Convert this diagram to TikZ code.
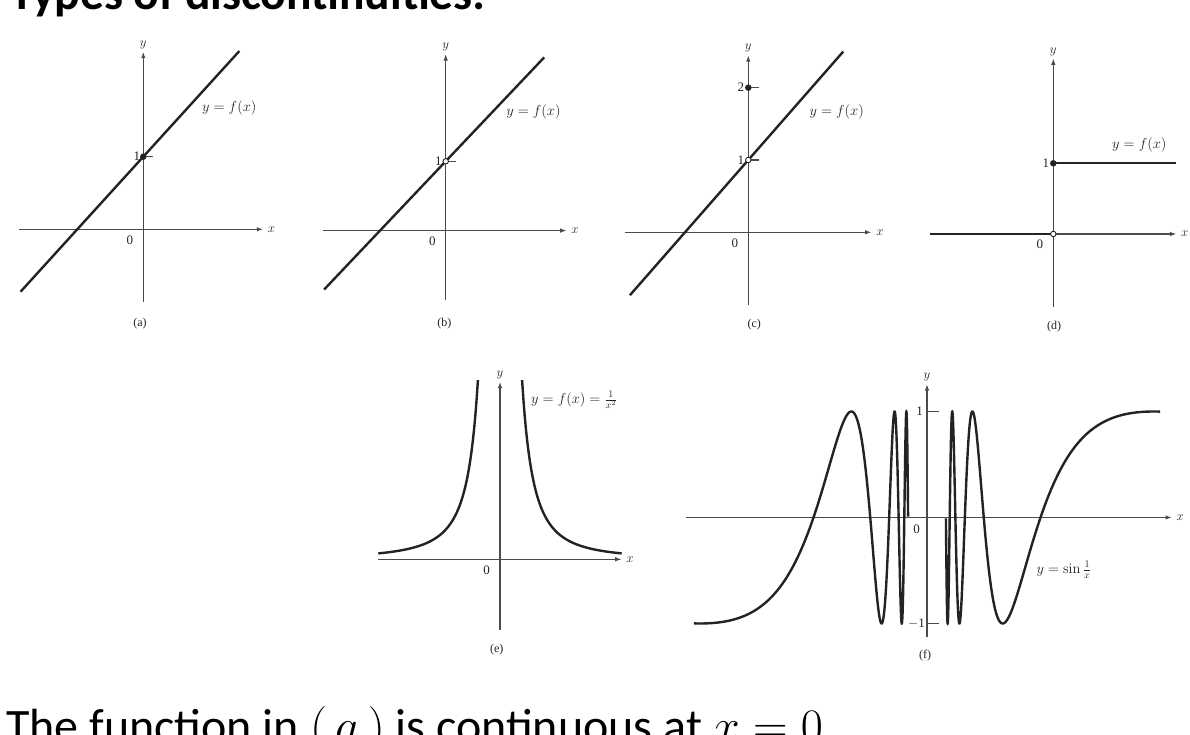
\RequirePackage{fix-cm}
\documentclass[tikz,border=0pt]{standalone}
\usepackage[no-math]{fontspec}
\setmainfont{Carlito}
\newfontfamily\plotfont{Liberation Serif}
\usetikzlibrary{arrows.meta, positioning}
\definecolor{axisgray}{RGB}{75,75,75}
\definecolor{curvegray}{RGB}{35,35,35}

\begin{document}
\begin{tikzpicture}[
    x=1pt, y=1pt,
    axis/.style  ={-{Latex[length=6.5pt,width=4.5pt]}, line width=1.3pt, axisgray},
    curve/.style ={line width=2.4pt, curvegray},
    ticky/.style ={line width=1.2pt, axisgray},
    fdot/.style  ={circle, fill=curvegray, inner sep=0pt, minimum size=6.5pt},
    hdot/.style  ={circle, draw=curvegray, fill=white, line width=0.9pt,
                   inner sep=0pt, minimum size=5.5pt},
    num/.style   ={font=\plotfont\fontsize{13}{15}\selectfont, inner sep=1pt, curvegray},
    subcap/.style={font=\plotfont\fontsize{12}{14}\selectfont, curvegray},
    axlbl/.style ={font=\fontsize{13}{15}\selectfont, inner sep=1pt, curvegray},
    fn/.style    ={font=\fontsize{14.5}{16}\selectfont, inner sep=1pt, curvegray},
  ]
  \useasboundingbox (0,0) rectangle (1190,735);

  % ---- slide texts (cut by the page edge) ----
  \node[anchor=base west, font=\bfseries\fontsize{47.5}{50}\selectfont, inner sep=0pt]
    (title) at (10,725) {Types of discontinuities:};
  \node[anchor=base west, font=\fontsize{48}{52}\selectfont, inner sep=0pt]
    (remark) at (6,-8) {The function in $(\,a\,)$ is continuous at $x=0$};

  % ---- (a) continuous ----
  \begin{scope}[shift={(143.3,505.7)}, x=66pt, y=72.6pt]
    \coordinate (Oa) at (0,0);
    \coordinate (Pa) at (0,1);
    \draw[axis] (-1.879,0) -- (1.818,0) node[axlbl, right=3pt] (xa) {$x$};
    \draw[axis] (0,-0.997) -- (0,2.446) node[axlbl, above=1pt] (ya) {$y$};
    \draw[curve] (-1.86,-0.86) -- (1.455,2.455);
    \draw[ticky] (Pa) -- ++(10pt,0);
    \node[fdot] (da) at (Pa) {};
    \node[num, left=2pt of Pa] (onea) {1};
    \node[num, below left=5pt and 9pt of Oa] (za) {0};
    \node[fn] (fa) at (1.303,1.667) {$y=f(x)$};
    \node[subcap] (capa) at (-0.05,-1.295) {(a)};
  \end{scope}

  % ---- (b) hole at (0,1) ----
  \begin{scope}[shift={(445.7,504.4)}, x=65.7pt, y=69.3pt]
    \coordinate (Ob) at (0,0);
    \coordinate (Pb) at (0,1);
    \draw[axis] (-1.872,0) -- (1.842,0) node[axlbl, right=3pt] (xb) {$x$};
    \draw[axis] (0,-1.0) -- (0,2.548) node[axlbl, above=1pt] (yb) {$y$};
    \draw[curve] (-1.85,-0.85) -- (1.5,2.5);
    \draw[ticky] (Pb) -- ++(10pt,0);
    \node[hdot] (hb) at (Pb) {};
    \node[num, left=3pt of Pb] (oneb) {1};
    \node[num, below left=5pt and 9pt of Ob] (zb) {0};
    \node[fn] (fb) at (1.336,1.72) {$y=f(x)$};
    \node[subcap] (capb) at (-0.02,-1.346) {(b)};
  \end{scope}

  % ---- (c) hole at (0,1), value 2 ----
  \begin{scope}[shift={(748.3,502.7)}, x=63.3pt, y=72.3pt]
    \coordinate (Oc) at (0,0);
    \coordinate (Pc) at (0,1);
    \coordinate (Qc) at (0,2);
    \draw[axis] (-1.948,0) -- (1.949,0) node[axlbl, right=3pt] (xc) {$x$};
    \draw[axis] (0,-1.006) -- (0,2.45) node[axlbl, above=1pt] (yc) {$y$};
    \draw[curve] (-1.87,-0.87) -- (1.5,2.5);
    \draw[ticky] (Pc) -- ++(11pt,0);
    \draw[ticky] (Qc) -- ++(11pt,0);
    \node[hdot] (hc) at (Pc) {};
    \node[fdot] (dc) at (Qc) {};
    \node[num, left=3pt of Pc] (onec) {1};
    \node[num, left=3pt of Qc] (twoc) {2};
    \node[num, below left=5pt and 9pt of Oc] (zc) {0};
    \node[fn] (fc) at (1.396,1.668) {$y=f(x)$};
    \node[subcap] (capc) at (0.095,-1.28) {(c)};
  \end{scope}

  % ---- (d) jump ----
  \begin{scope}[shift={(1053.3,501)}, x=70pt, y=70.7pt]
    \coordinate (Od) at (0,0);
    \coordinate (Pd) at (0,1);
    \draw[axis] (-1.76,0) -- (1.76,0) node[axlbl, right=3pt] (xd) {$x$};
    \draw[axis] (0,-1.028) -- (0,2.485) node[axlbl, above=1pt] (yd) {$y$};
    \draw[curve] (-1.76,0) -- (Od);
    \draw[curve] (Pd) -- (1.75,1);
    \node[fdot] (dd) at (Pd) {};
    \node[hdot] (hd) at (Od) {};
    \node[num, left=3pt of Pd] (oned) {1};
    \node[num, below left=5pt and 9pt of Od] (zd) {0};
    \node[fn] (fd) at (1.229,1.259) {$y=f(x)$};
    \node[subcap] (capd) at (0.01,-1.315) {(d)};
  \end{scope}

  % ---- (e) infinite ----
  \begin{scope}[shift={(500,175.7)}, x=50pt, y=50pt]
    \coordinate (Oe) at (0,0);
    \draw[axis] (-2.434,0) -- (2.434,0) node[axlbl, right=3pt] (xe) {$x$};
    \draw[axis] (0,-1.414) -- (0,3.552) node[axlbl, above=1pt] (ye) {$y$};
    \draw[curve] plot[domain=0.442:2.434, samples=80] (\x,{0.7/(\x*\x)});
    \draw[curve] plot[domain=0.442:2.434, samples=80] (-\x,{0.7/(\x*\x)});
    \node[num, below left=5pt and 9pt of Oe] (ze) {0};
    \node[fn, anchor=west] (fe) at (0.6,3.186) {$y=f(x)=\frac{1}{x^2}$};
    \node[subcap] (cape) at (-0.066,-1.814) {(e)};
  \end{scope}

  % ---- (f) oscillating ----
  \begin{scope}[shift={(927,217.5)}, x=356.6pt, y=106pt]
    \coordinate (Of) at (0,0);
    \coordinate (Pf) at (0,1);
    \coordinate (Mf) at (0,-1);
    \draw[axis] (-0.675,0) -- (0.687,0) node[axlbl, right=3pt] (xf) {$x$};
    \draw[axis] (0,-1.132) -- (0,1.259) node[axlbl, above=1pt] (yf) {$y$};
    \draw[ticky] (Pf) -- ++(12pt,0);
    \draw[ticky] (Mf) -- ++(12pt,0);
    \draw[curve] plot[domain=1.53:18.85, samples=600, variable=\t] ({1/\t},{sin(\t r)});
    \draw[curve] plot[domain=1.53:18.85, samples=600, variable=\t] ({-1/\t},{-sin(\t r)});
    \node[num, left=3pt of Pf] (onef) {1};
    \node[num, left=1pt of Mf] (monef) {$-$1};
    \node[num, below left=6pt and 6pt of Of] (zf) {0};
    \node[fn, anchor=west] (ff) at (0.304,-0.495) {$y=\sin\frac{1}{x}$};
    \node[subcap] (capf) at (-0.005,-1.307) {(f)};
  \end{scope}

\end{tikzpicture}
\end{document}
